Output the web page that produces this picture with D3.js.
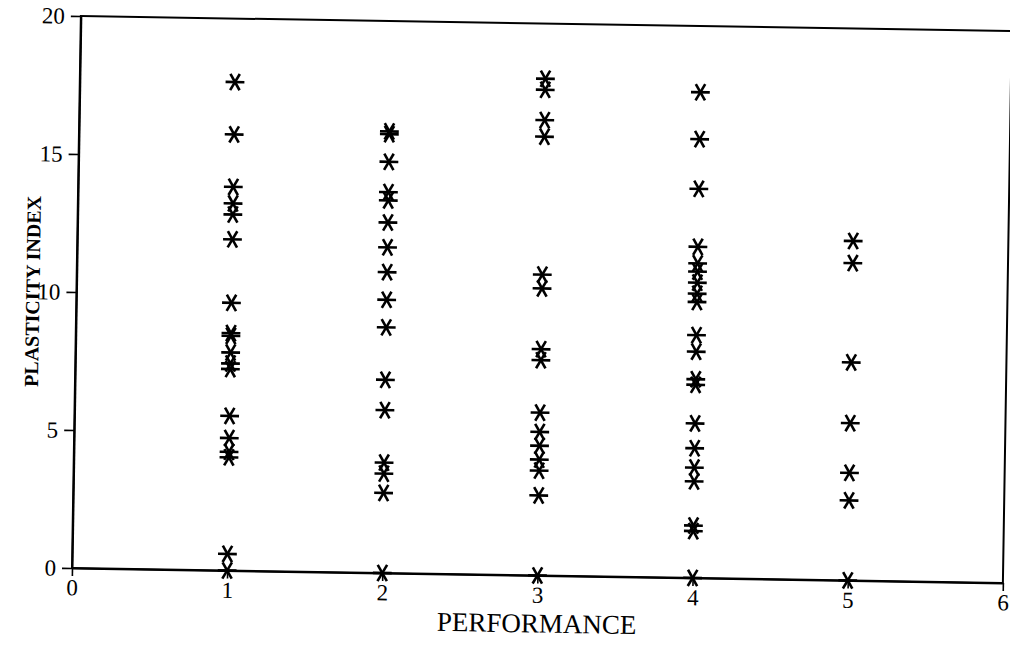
<!DOCTYPE html>
<html>
<head>
<meta charset="utf-8">
<script src="https://cdn.jsdelivr.net/npm/d3@7"></script>
<style>
  html, body { margin: 0; padding: 0; background: #fff; }
  svg { display: block; }
  text { font-family: "Liberation Serif", "Times New Roman", serif; fill: #000; }
</style>
</head>
<body>
<svg id="chart" width="1010" height="651"></svg>
<script>
// Axis ticks
const xTicks = [0, 1, 2, 3, 4, 5, 6];
const yTicks = [0, 5, 10, 15, 20];

// Plasticity index readings grouped by performance rating
const performance = [1, 2, 3, 4, 5];
const pi1 = [17.7, 15.8, 13.9, 13.3, 12.9, 12.0, 9.7, 8.6, 8.5, 7.9, 7.5, 7.3, 5.6, 4.8, 4.3, 4.1, 0.6, 0];
const pi2 = [16.0, 15.9, 14.9, 13.8, 13.5, 12.7, 11.8, 10.9, 9.9, 8.9, 7.0, 5.9, 4.0, 3.6, 2.9, 0];
const pi3 = [18.0, 17.6, 16.5, 15.9, 10.9, 10.4, 8.2, 7.8, 5.9, 5.2, 4.7, 4.2, 3.8, 2.9, 0];
const pi4 = [17.6, 15.9, 14.1, 12.0, 11.4, 11.1, 10.7, 10.3, 10.0, 8.8, 8.2, 7.2, 7.0, 5.6, 4.7, 4.0, 3.5, 1.9, 1.7, 0];
const pi5 = [12.3, 11.5, 7.9, 5.7, 3.9, 2.9, 0];

const groups = [pi1, pi2, pi3, pi4, pi5];
const points = [];
groups.forEach((vals, i) => vals.forEach(v => points.push({ perf: performance[i], pi: v })));

const svg = d3.select("#chart");
svg.append("rect").attr("width", 1010).attr("height", 651).attr("fill", "#fff");

const W = 931, H = 552;
const x = d3.scaleLinear().domain([0, 6]).range([0, W]);
const y = d3.scaleLinear().domain([0, 20]).range([0, -H]);

// The printed page sits slightly skewed, so the plot frame is tilted about its origin
const g = svg.append("g").attr("transform", "translate(72,568) rotate(0.92)");

// Frame
g.append("rect")
  .attr("x", 0).attr("y", -H).attr("width", W).attr("height", H)
  .attr("fill", "none").attr("stroke", "#000").attr("stroke-width", 2);

// Left axis
const yAxis = g.append("g")
  .call(d3.axisLeft(y).tickValues(yTicks).tickFormat(d3.format("d"))
    .tickSize(10).tickPadding(6).tickSizeOuter(0));
yAxis.select(".domain").attr("stroke-width", 2);
yAxis.selectAll(".tick line").attr("stroke-width", 1.6);
yAxis.selectAll("text").attr("font-size", 23).style("font-family", "'Liberation Serif', serif");

// Bottom axis
const xAxis = g.append("g")
  .call(d3.axisBottom(x).tickValues(xTicks).tickFormat(d3.format("d"))
    .tickSize(8).tickPadding(3).tickSizeOuter(0));
xAxis.select(".domain").attr("stroke-width", 2);
xAxis.selectAll(".tick line").attr("stroke-width", 1.6);
xAxis.selectAll("text").attr("font-size", 23).style("font-family", "'Liberation Serif', serif");

// Axis titles
g.append("text")
  .attr("x", x(3)).attr("y", 57)
  .attr("text-anchor", "middle")
  .attr("font-size", 27)
  .text("PERFORMANCE");

g.append("text")
  .attr("transform", `translate(-37,${y(10)}) rotate(-90)`)
  .attr("text-anchor", "middle")
  .attr("font-size", 20)
  .attr("font-weight", "bold")
  .text("PLASTICITY INDEX");

// Asterisk markers: three crossing strokes at 0, 60 and 120 degrees
const arm = 9.4;
const angles = [0, 60, 120];
const marks = g.append("g").selectAll("g.pt")
  .data(points)
  .join("g")
  .attr("class", "pt")
  .attr("transform", d => `translate(${x(d.perf)},${y(d.pi)})`);

angles.forEach(a => {
  const r = a * Math.PI / 180;
  marks.append("line")
    .attr("x1", -arm * Math.cos(r)).attr("y1", -arm * Math.sin(r))
    .attr("x2", arm * Math.cos(r)).attr("y2", arm * Math.sin(r))
    .attr("stroke", "#000").attr("stroke-width", 2.6).attr("stroke-linecap", "butt");
});
</script>
</body>
</html>
